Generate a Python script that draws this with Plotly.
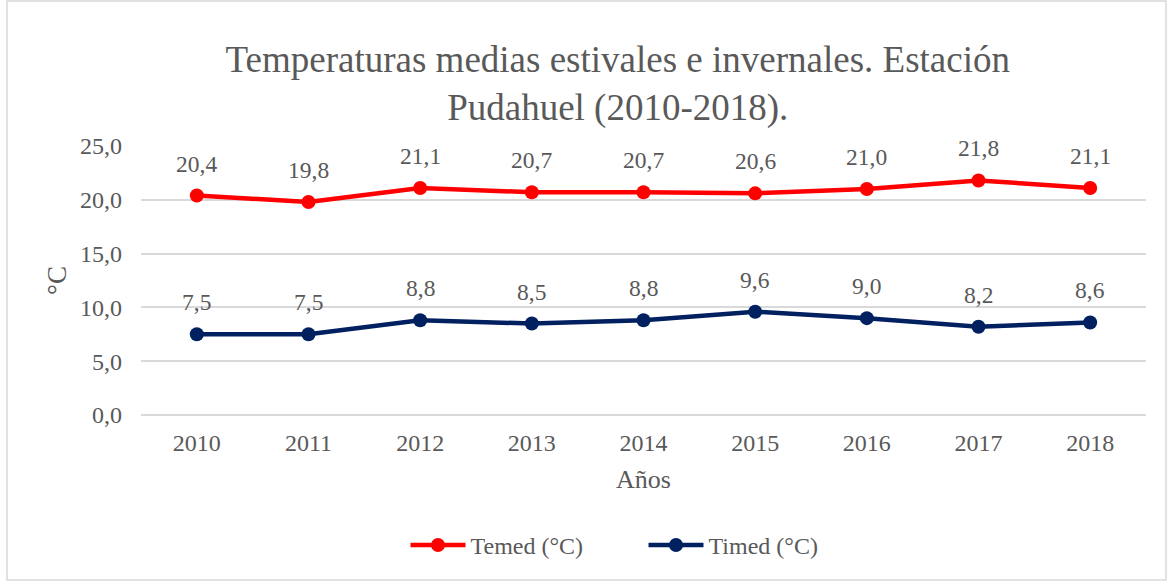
import plotly.graph_objects as go

# Datos
years = ["2010", "2011", "2012", "2013", "2014", "2015", "2016", "2017", "2018"]
temed = [20.4, 19.8, 21.1, 20.7, 20.7, 20.6, 21.0, 21.8, 21.1]
timed = [7.5, 7.5, 8.8, 8.5, 8.8, 9.6, 9.0, 8.2, 8.6]

FONT = "Liberation Serif, Times New Roman, serif"
GRAY = "#595959"

fig = go.Figure()
fig.add_trace(go.Scatter(
    x=years, y=temed, name="Temed (°C)",
    mode="lines+markers",
    line=dict(color="#FF0000", width=4.5),
    marker=dict(size=14, color="#FF0000"),
))
fig.add_trace(go.Scatter(
    x=years, y=timed, name="Timed (°C)",
    mode="lines+markers",
    line=dict(color="#002060", width=4.5),
    marker=dict(size=14, color="#002060"),
))

# etiquetas de datos (x por índice de categoría)
for serie in (temed, timed):
    for i, y in enumerate(serie):
        fig.add_annotation(x=i, y=y, text=f"{y:.1f}".replace(".", ","),
                           showarrow=False, yshift=32,
                           font=dict(family=FONT, size=23.5, color=GRAY))

fig.update_layout(
    width=1170, height=582,
    paper_bgcolor="white", plot_bgcolor="white",
    separators=",.",
    font=dict(family=FONT, size=24, color=GRAY),
    margin=dict(l=141, r=24, t=146, b=167),
    title=dict(
        text="Temperaturas medias estivales e invernales. Estación<br>Pudahuel (2010-2018).",
        x=0.528, xanchor="center", y=1 - 72 / 582, yanchor="top", yref="container",
        font=dict(family=FONT, size=37, color=GRAY),
    ),
    legend=dict(orientation="h", x=0.5, xanchor="center", y=-0.485, yanchor="middle",
                font=dict(family=FONT, size=24, color=GRAY), itemwidth=55,
                entrywidth=168, traceorder="normal"),
    showlegend=True,
)
fig.update_xaxes(
    type="category", range=[-0.5, len(years) - 0.5],
    showgrid=False, showline=False, ticks="",
    ticklabelstandoff=11,
    tickfont=dict(family=FONT, size=24, color=GRAY),
    title=dict(text="Años", font=dict(family=FONT, size=26, color=GRAY), standoff=14),
)
fig.update_yaxes(
    range=[0, 25], dtick=5, tickformat=".1f",
    showgrid=True, gridcolor="#D9D9D9", gridwidth=1.5,
    zeroline=True, zerolinecolor="#D9D9D9", zerolinewidth=1.5,
    showline=False, ticks="", ticklabelstandoff=18,
    tickfont=dict(family=FONT, size=24, color=GRAY),
    title=dict(text="°C", font=dict(family=FONT, size=27, color=GRAY), standoff=5),
)

# marco exterior del gráfico
fig.add_shape(type="rect", xref="paper", yref="paper",
              x0=(7 - 141) / 1005, x1=(1166 - 141) / 1005,
              y0=(415 - 580) / 269, y1=(415 - 1) / 269,
              line=dict(color="#D9D9D9", width=1.5), fillcolor="rgba(0,0,0,0)", layer="below")

fig.write_html("out.html", config={"displayModeBar": False},
               post_script="document.body.style.margin='0';")
